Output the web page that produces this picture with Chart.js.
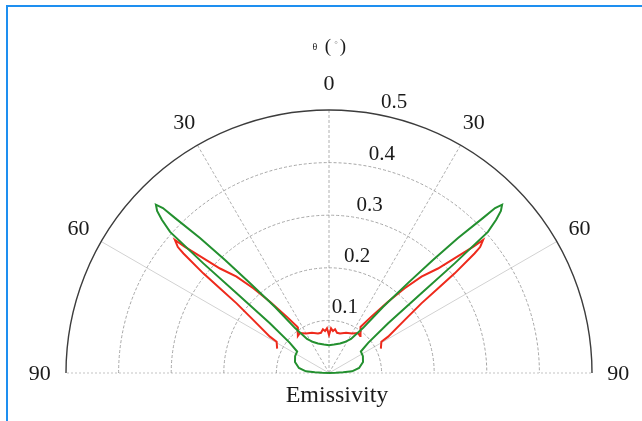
<!DOCTYPE html>
<html><head><meta charset="utf-8">
<script src="https://cdn.jsdelivr.net/npm/chart.js@4/dist/chart.umd.min.js"></script>
<style>
html,body{margin:0;padding:0;background:#fff;overflow:hidden}
#wrap{position:absolute;left:0;top:0;width:642px;height:421px}
#frame{position:absolute;left:6px;top:5px;width:660px;height:440px;border-top:2px solid #1e8ff0;border-left:2px solid #1e8ff0;pointer-events:none}
</style></head><body>
<div id="frame"></div>
<div id="wrap"><canvas id="c"></canvas></div>
<script>
// ---- data (angle θ in degrees from vertical, radius = emissivity) ----
const angleTicks = [-90, -60, -30, 0, 30, 60, 90];
const angleTickLabels = ['90', '60', '30', '0', '30', '60', '90'];
const radialTicks = [0.1, 0.2, 0.3, 0.4, 0.5];
const radialTickLabels = ['0.1', '0.2', '0.3', '0.4', '0.5'];
const angleTitle = 'θ';
const radialTitle = 'Emissivity';

const greenTheta = [-90, -87.5, -86.7, -85.8, -80.5, -72, -63.5, -56, -52.4, -49.9, -49.2, -48.9, -48.4, -47.5, -46.7, -45.8, -45.2, -44.8, -43.7, -42.6, -41.3, -39.3, -37.1, -32.9, -27, -20.4, -10, 0,
  10, 20.4, 27, 32.9, 37.1, 39.3, 41.3, 42.6, 43.7, 44.8, 45.2, 45.8, 46.7, 47.5, 48.4, 48.9, 49.2, 49.9, 52.4, 56, 63.5, 72, 80.5, 85.8, 86.7, 87.5, 90];
const greenR = [0, 0.013, 0.027, 0.044, 0.058, 0.068, 0.072, 0.073, 0.094, 0.147, 0.232, 0.317, 0.404, 0.431, 0.449, 0.459, 0.445, 0.415, 0.355, 0.292, 0.228, 0.162, 0.107, 0.077, 0.066, 0.060, 0.055, 0.053,
  0.055, 0.060, 0.066, 0.077, 0.107, 0.162, 0.228, 0.292, 0.355, 0.415, 0.445, 0.459, 0.449, 0.431, 0.404, 0.317, 0.232, 0.147, 0.094, 0.073, 0.072, 0.068, 0.058, 0.044, 0.027, 0.013, 0];

const redTheta = [-64.8, -59.1, -58.4, -55.0, -53.0, -52.2, -51.6, -50.6, -50.2, -49.2, -48.8, -47.6, -46.2, -43.8, -41.8, -39.6, -36.9, -34.4, -40.0, -35.9, -30.2, -23.0, -15.6, -11.3, -7.9, -5.4, -2.6, 0,
  2.6, 5.4, 7.9, 11.3, 15.6, 23.0, 30.2, 35.9, 40.0, 34.4, 36.9, 39.6, 41.8, 43.8, 46.2, 47.6, 48.8, 49.2, 50.2, 50.6, 51.6, 52.2, 53.0, 55.0, 58.4, 59.1, 64.8];
const redR = [0.109, 0.116, 0.132, 0.176, 0.220, 0.262, 0.305, 0.358, 0.374, 0.387, 0.364, 0.324, 0.287, 0.254, 0.216, 0.176, 0.134, 0.106, 0.092, 0.094, 0.087, 0.083, 0.078, 0.078, 0.084, 0.080, 0.085, 0.072,
  0.085, 0.080, 0.084, 0.078, 0.078, 0.083, 0.087, 0.094, 0.092, 0.106, 0.134, 0.176, 0.216, 0.254, 0.287, 0.324, 0.364, 0.387, 0.374, 0.358, 0.305, 0.262, 0.220, 0.176, 0.132, 0.116, 0.109];

// polar (θ, r) -> cartesian values for the scatter scales
function toXY(thetas, rs) {
  return thetas.map((t, i) => {
    const a = t * Math.PI / 180;
    return { x: rs[i] * Math.sin(a), y: rs[i] * Math.cos(a) };
  });
}

const SERIF = '"Liberation Serif", "DejaVu Serif", serif';

const polarGrid = {
  id: 'polarGrid',
  beforeDatasetsDraw(chart) {
    const { ctx, scales: { x, y } } = chart;
    const cx = x.getPixelForValue(0), cy = y.getPixelForValue(0);
    const rMax = radialTicks[radialTicks.length - 1];
    const pt = (deg, r) => {
      const a = deg * Math.PI / 180;
      return [x.getPixelForValue(r * Math.sin(a)), y.getPixelForValue(r * Math.cos(a))];
    };
    ctx.save();
    // spokes
    angleTicks.forEach(t => {
      const [ex, ey] = pt(t, rMax);
      ctx.beginPath();
      ctx.moveTo(cx, cy);
      ctx.lineTo(ex, ey);
      if (Math.abs(t) === 90) { ctx.setLineDash([2, 2]); ctx.strokeStyle = '#c4c4c4'; }
      else if (Math.abs(t) === 60) { ctx.setLineDash([]); ctx.strokeStyle = '#d2d2d2'; }
      else { ctx.setLineDash([3, 2]); ctx.strokeStyle = '#b0b0b0'; }
      ctx.lineWidth = 1;
      ctx.stroke();
    });
    // circles
    radialTicks.forEach((v, i) => {
      const R = x.getPixelForValue(v) - cx;
      ctx.beginPath();
      ctx.arc(cx, cy, R, Math.PI, 2 * Math.PI);
      if (i === radialTicks.length - 1) { ctx.setLineDash([]); ctx.strokeStyle = '#3c3c3c'; ctx.lineWidth = 1.4; }
      else { ctx.setLineDash([3, 2]); ctx.strokeStyle = '#a6a6a6'; ctx.lineWidth = 1; }
      ctx.stroke();
    });
    ctx.restore();
  },
  afterDraw(chart) {
    const { ctx, scales: { x, y } } = chart;
    const cx = x.getPixelForValue(0), cy = y.getPixelForValue(0);
    const pt = (deg, r) => {
      const a = deg * Math.PI / 180;
      return [x.getPixelForValue(r * Math.sin(a)), y.getPixelForValue(r * Math.cos(a))];
    };
    ctx.save();
    ctx.fillStyle = '#1a1a1a';
    ctx.textAlign = 'center';
    ctx.textBaseline = 'middle';
    // angle tick labels
    ctx.font = '22px ' + SERIF;
    angleTicks.forEach((t, i) => {
      const [px, py] = pt(t, 0.55);
      ctx.fillText(angleTickLabels[i], px, py + 1);
    });
    // radial tick labels
    ctx.font = '21px ' + SERIF;
    radialTicks.forEach((v, i) => {
      const [px, py] = pt(13.5, v + 0.03);
      ctx.fillText(radialTickLabels[i], px, py + 1);
    });
    // radial axis title
    ctx.font = '24px ' + SERIF;
    ctx.textBaseline = 'alphabetic';
    ctx.fillText(radialTitle, cx + 8, cy + 29);
    // angle axis title θ (°)
    ctx.textBaseline = 'middle';
    ctx.font = '10px ' + SERIF;
    ctx.fillText(angleTitle, cx - 14, cy - 326);
    ctx.font = '19px ' + SERIF;
    ctx.fillText('(', cx - 1, cy - 326);
    ctx.fillText(')', cx + 14, cy - 326);
    ctx.fillStyle = '#888';
    ctx.font = '9px ' + SERIF;
    ctx.fillText('°', cx + 7, cy - 328);
    ctx.restore();
  }
};

new Chart(document.getElementById('c'), {
  type: 'scatter',
  data: {
    datasets: [
      { label: 'green', data: toXY(greenTheta, greenR), showLine: true, borderColor: '#23902f', backgroundColor: '#23902f', borderWidth: 2, pointRadius: 0, tension: 0, clip: false },
      { label: 'red', data: toXY(redTheta, redR), showLine: true, borderColor: '#ee2a1c', backgroundColor: '#ee2a1c', borderWidth: 2, pointRadius: 0, tension: 0, clip: false }
    ]
  },
  options: {
    responsive: true,
    maintainAspectRatio: false,
    animation: false,
    devicePixelRatio: 1,
    events: [],
    layout: { padding: { left: 66, right: 50, top: 110, bottom: 48 } },
    scales: {
      x: { type: 'linear', min: -0.5, max: 0.5, display: false },
      y: { type: 'linear', min: 0, max: 0.5, display: false }
    },
    plugins: { legend: { display: false }, tooltip: { enabled: false } }
  },
  plugins: [polarGrid]
});
</script>
</body></html>
